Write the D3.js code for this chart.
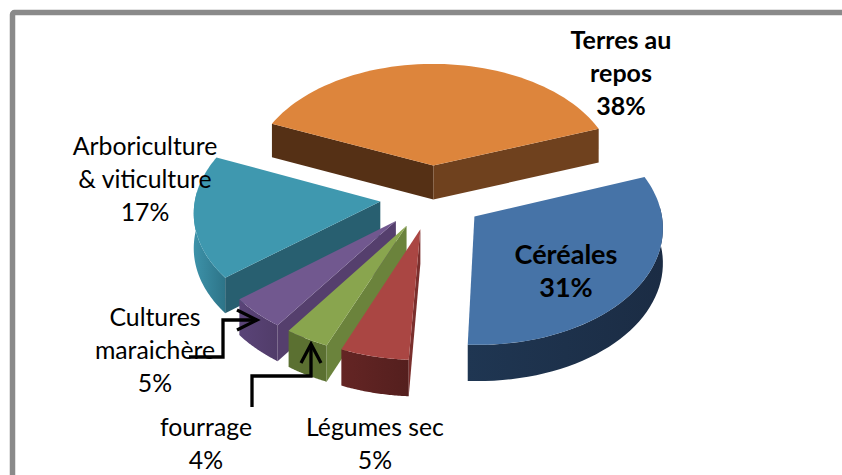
<!DOCTYPE html>
<html>
<head>
<meta charset="utf-8">
<script src="https://cdn.jsdelivr.net/npm/d3@7"></script>
<style>
    html, body { margin: 0; padding: 0; background: #fff; overflow: hidden; }
    svg { display: block; }
    text { font-family: Lato, "Open Sans", sans-serif; fill: #000; text-anchor: middle; }
</style>
</head>
<body>
<div id="chart"></div>
<script>
// data, labels show the rounded percent
const categories = ['Terres au repos', 'Céréales', 'Légumes sec', 'fourrage', 'Cultures maraichère', 'Arboriculture & viticulture'];
const values = [38, 31.4, 5.4, 3.5, 4.5, 17.2];
const labelLines = [['Terres au', 'repos'], ['Céréales'], ['Légumes sec'], ['fourrage'], ['Cultures', 'maraichère'], ['Arboriculture', '& viticulture']];

// colours per slice: top face, cut faces, outer wall (two gradient stops)
const topColors = ['#DD853C', '#4673A7', '#AA4643', '#89A54E', '#71588F', '#3F98AF'];
const cutColors = [['#553015', '#6F411E'], ['#1C2E47', '#1C2E47'], ['#7A2F2D', '#7A2F2D'], ['#6B833C', '#5B7031'], ['#553F6D', '#553F6D'], ['#285F70', '#285F70']];
const wallColors = [['#6F411E', '#553015'], ['#1F3652', '#1B2C44'], ['#642524', '#541F1E'], ['#5B7031', '#5B7031'], ['#5A4478', '#513C69'], ['#3D92A9', '#2D7488']];

// layout of the label block (centre x, first baseline y, size, bold)
const labelPos = [
    {x: 621, y: 49, size: 25, bold: true},
    {x: 566, y: 264, size: 27, bold: true},
    {x: 375, y: 436, size: 24.8},
    {x: 206, y: 436, size: 24.8},
    {x: 155, y: 326, size: 24.8},
    {x: 145, y: 155, size: 24.8}
];
const lineHeight = 33;

const width = 842, height = 475;

// 3d projection of the pie
const cx = 432, cy = 197,
    radius = 185, explode = 52,
    tilt = 0.62, persp = 0.081, depth = 34.5,
    rotation = 1.5;

const rad = d => d * Math.PI / 180;

const svg = d3.select('#chart').append('svg')
    .attr('width', width)
    .attr('height', height);

const defs = svg.append('defs');

// frame of the chart, it runs off the right and the bottom
svg.append('rect')
    .attr('x', 12.5).attr('y', 12.5)
    .attr('width', 1000).attr('height', 1000)
    .attr('rx', 2)
    .attr('fill', 'none')
    .attr('stroke', '#8A8A8A')
    .attr('stroke-width', 5.5);

const pie = d3.pie()
    .sort(null)
    .startAngle(rad(rotation - 68.4))
    .endAngle(rad(rotation - 68.4 + 360));

const arcs = pie(values);
const line = d3.line();

// plane coordinates to screen, z = 0 is the top face
function project(u, v, z) {
    const s = 1 / (1 + persp * v / radius);
    return [cx + u * s, cy - radius * tilt * (v / radius) * s + z * Math.sqrt(s)];
}

function slicePoint(d, a, r, z) {
    const mid = (d.startAngle + d.endAngle) / 2;
    return project(
        explode * Math.sin(mid) + r * Math.sin(a),
        explode * Math.cos(mid) + r * Math.cos(a),
        z
    );
}

function closed(p) {
    return line(p) + 'Z';
}

// draw order: back to front
const order = [0, 5, 1, 4, 3, 2];

order.forEach(i => {
    const d = arcs[i];
    const g = svg.append('g').attr('class', 'slice').datum(categories[i]);

    // outer wall, only the part turned to the viewer
    const a0 = Math.max(d.startAngle, rad(85)),
        a1 = Math.min(d.endAngle, rad(275));
    if (a1 > a0) {
        const ts = d3.range(0, 41).map(k => a0 + (a1 - a0) * k / 40);
        const wall = ts.map(a => slicePoint(d, a, radius, 0))
            .concat(ts.slice().reverse().map(a => slicePoint(d, a, radius, depth)));
        const id = 'wall' + i;
        const grad = defs.append('linearGradient').attr('id', id);
        grad.append('stop').attr('offset', '0%').attr('stop-color', wallColors[i][0]);
        grad.append('stop').attr('offset', '100%').attr('stop-color', wallColors[i][1]);
        g.append('path').attr('d', closed(wall)).attr('fill', `url(#${id})`);
    }

    // cut faces, painted only when they face the camera
    [[d.startAngle, 1, 0], [d.endAngle, -1, 1]].forEach(([a, sign, c]) => {
        const quad = [
            slicePoint(d, a, 0, 0),
            slicePoint(d, a, radius, 0),
            slicePoint(d, a, radius, depth),
            slicePoint(d, a, 0, depth)
        ];
        if (d3.polygonArea(quad) * sign > 0) {
            g.append('path').attr('d', closed(quad)).attr('fill', cutColors[i][c]);
        }
    });

    // top face
    const n = 60;
    const top = [slicePoint(d, 0, 0, 0)].concat(d3.range(0, n + 1).map(k =>
        slicePoint(d, d.startAngle + (d.endAngle - d.startAngle) * k / n, radius, 0)));
    g.append('path').attr('d', closed(top)).attr('fill', topColors[i]);
});

// the two hand drawn arrows of the original
const arrows = [
    {path: [[189, 357], [223, 357], [223, 320], [257, 320]], head: [[237, 310], [257, 320], [237, 330]]},
    {path: [[252, 407], [252, 376], [311, 376], [311, 344]], head: [[301, 363], [311, 344], [321, 363]]}
];

arrows.forEach(a => {
    [a.path, a.head].forEach(p => {
        svg.append('path')
            .attr('d', line(p))
            .attr('fill', 'none')
            .attr('stroke', '#000')
            .attr('stroke-width', 3.3);
    });
});

// labels, last so they stay on top
categories.forEach((c, i) => {
    const pos = labelPos[i];
    const lines = labelLines[i].concat(Math.round(values[i]) + '%');
    const t = svg.append('text')
        .attr('font-size', pos.size)
        .attr('font-weight', pos.bold ? 'bold' : null);
    lines.forEach((l, k) => {
        t.append('tspan')
            .attr('x', pos.x)
            .attr('y', pos.y + k * lineHeight)
            .text(l);
    });
});
</script>
</body>
</html>
